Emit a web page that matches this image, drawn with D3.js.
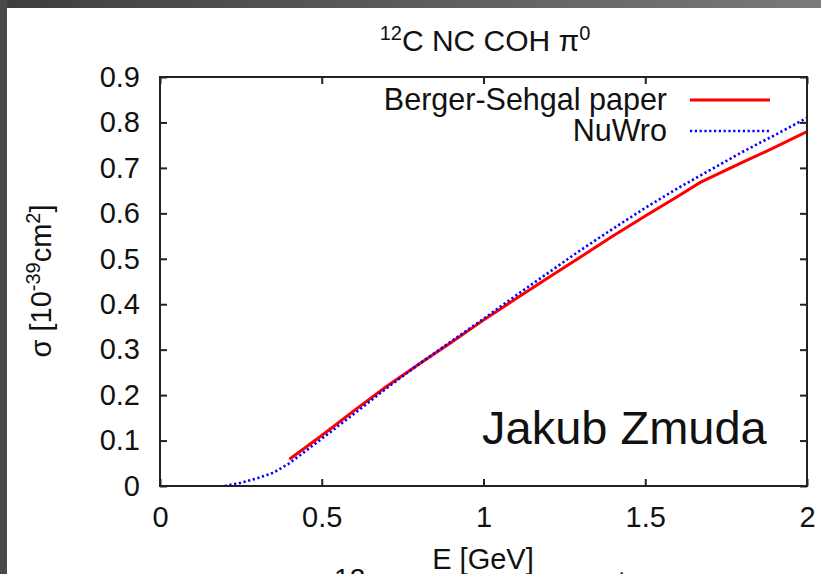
<!DOCTYPE html>
<html>
<head>
<meta charset="utf-8">
<script src="https://cdn.jsdelivr.net/npm/d3@7"></script>
<style>
  body { margin: 0; background: #fff; }
  svg { display: block; }
  text { font-family: "Liberation Sans", Arial, Helvetica, sans-serif; fill: #111; }
</style>
</head>
<body>
<svg width="821" height="574"></svg>
<script>
// donnees
const xTicks = [0, 0.5, 1, 1.5, 2];
const xTickLabels = ['0', '0.5', '1', '1.5', '2'];
const yTicks = [0, 0.1, 0.2, 0.3, 0.4, 0.5, 0.6, 0.7, 0.8, 0.9];
const yTickLabels = ['0', '0.1', '0.2', '0.3', '0.4', '0.5', '0.6', '0.7', '0.8', '0.9'];

// Berger-Sehgal paper
const bsE = [0.4, 0.5, 0.6, 0.7, 0.8, 0.9, 1.0, 1.1, 1.2, 1.3, 1.4, 1.5, 1.6, 1.67, 1.8, 1.9, 2.0];
const bsSigma = [0.059, 0.111, 0.166, 0.219, 0.268, 0.316, 0.365, 0.412, 0.458, 0.504, 0.55, 0.594, 0.637, 0.668, 0.712, 0.745, 0.78];

// NuWro
const nwE = [0.2, 0.25, 0.3, 0.35, 0.4, 0.45, 0.5, 0.6, 0.7, 0.8, 0.9, 1.0, 1.1, 1.2, 1.3, 1.4, 1.5, 1.6, 1.7, 1.8, 1.9, 2.0];
const nwSigma = [0, 0.007, 0.017, 0.029, 0.05, 0.077, 0.104, 0.159, 0.215, 0.268, 0.318, 0.368, 0.419, 0.469, 0.519, 0.566, 0.612, 0.655, 0.695, 0.735, 0.772, 0.81];

const svg = d3.select('svg');
const W = +svg.attr('width');
const H = +svg.attr('height');

// bord gris de la capture
const defs = svg.append('defs');
const grad = defs.append('linearGradient').attr('id', 'topband');
grad.append('stop').attr('offset', '0%').attr('stop-color', '#3e3e3e');
grad.append('stop').attr('offset', '100%').attr('stop-color', '#7a7a7a');
svg.append('rect').attr('x', 0).attr('y', 0).attr('width', W).attr('height', 8).attr('fill', 'url(#topband)');
svg.append('rect').attr('x', 0).attr('y', 0).attr('width', 7).attr('height', H).attr('fill', '#4a4a4a');

const pL = 160, pR = 807, pT = 77, pB = 486;

const x = d3.scaleLinear().domain([0, 2]).range([pL, pR]);
const y = d3.scaleLinear().domain([0, 0.9]).range([pB, pT]);

// courbes (clip dans le cadre)
defs.append('clipPath').attr('id', 'plot')
  .append('rect').attr('x', pL).attr('y', pT).attr('width', pR - pL).attr('height', pB - pT);

const line = d3.line().x(d => x(d[0])).y(d => y(d[1]));

svg.append('path')
  .datum(bsE.map((e, i) => [e, bsSigma[i]]))
  .attr('clip-path', 'url(#plot)')
  .attr('fill', 'none')
  .attr('stroke', '#ff0000')
  .attr('stroke-width', 3)
  .attr('d', line);

svg.append('path')
  .datum(nwE.map((e, i) => [e, nwSigma[i]]))
  .attr('clip-path', 'url(#plot)')
  .attr('fill', 'none')
  .attr('stroke', '#0000ff')
  .attr('stroke-width', 2.6)
  .attr('stroke-dasharray', '2.2,2.6')
  .attr('d', line);

// axes : ticks vers l'interieur, sur les quatre cotes
const tickLen = 7;
const axB = svg.append('g').attr('transform', `translate(0,${pB})`)
  .call(d3.axisBottom(x).tickValues(xTicks).tickSize(-tickLen).tickPadding(20)
    .tickFormat((d, i) => xTickLabels[i]));
const axT = svg.append('g').attr('transform', `translate(0,${pT})`)
  .call(d3.axisTop(x).tickValues(xTicks).tickSize(-tickLen).tickFormat(''));
const axL = svg.append('g').attr('transform', `translate(${pL},0)`)
  .call(d3.axisLeft(y).tickValues(yTicks).tickSize(-tickLen).tickPadding(20)
    .tickFormat((d, i) => yTickLabels[i]));
const axR = svg.append('g').attr('transform', `translate(${pR},0)`)
  .call(d3.axisRight(y).tickValues(yTicks).tickSize(-tickLen).tickFormat(''));

[axB, axT, axL, axR].forEach(g => {
  g.select('.domain').remove();
  g.selectAll('.tick line').attr('stroke', '#222').attr('stroke-width', 2);
  g.selectAll('.tick text').attr('font-size', 29).attr('font-family', null).attr('fill', '#111');
});

svg.append('rect')
  .attr('x', pL).attr('y', pT)
  .attr('width', pR - pL).attr('height', pB - pT)
  .attr('fill', 'none').attr('stroke', '#222').attr('stroke-width', 2);

// titre
const title = svg.append('text').attr('x', 485).attr('y', 51).attr('text-anchor', 'middle').attr('font-size', 30);
title.append('tspan').attr('font-size', 20).attr('dy', -11).text('12');
title.append('tspan').attr('dy', 11).text('C NC COH π');
title.append('tspan').attr('font-size', 20).attr('dy', -11).text('0');

// titre du graphique suivant, coupe en bas
const next = svg.append('text').attr('x', 482).attr('y', 603).attr('text-anchor', 'middle').attr('font-size', 42);
next.append('tspan').attr('font-size', 28).attr('dy', -15).text('12');
next.append('tspan').attr('dy', 15).text('C NC COH π');
next.append('tspan').attr('font-size', 28).attr('dy', -15).text('+');

// titre axe x
svg.append('text').attr('x', 483).attr('y', 569).attr('text-anchor', 'middle').attr('font-size', 29)
  .style('paint-order', 'stroke').attr('stroke', '#fff').attr('stroke-width', 3).text('E [GeV]');

// titre axe y
const yl = svg.append('text').attr('transform', 'translate(51,281) rotate(-90)')
  .attr('text-anchor', 'middle').attr('font-size', 29);
yl.append('tspan').text('σ [10');
yl.append('tspan').attr('font-size', 20).attr('dy', -11).text('-39');
yl.append('tspan').attr('dy', 11).text('cm');
yl.append('tspan').attr('font-size', 20).attr('dy', -11).text('2');
yl.append('tspan').attr('dy', 11).text(']');

// legende
const legend = [
  { name: 'Berger-Sehgal paper', color: '#ff0000', dash: null, w: 3 },
  { name: 'NuWro', color: '#0000ff', dash: '2.2,2.6', w: 2.6 }
];
legend.forEach((d, i) => {
  const ly = 100 + i * 31;
  svg.append('text').attr('x', 667).attr('y', ly + 10).attr('text-anchor', 'end')
    .attr('font-size', 30.5).text(d.name);
  svg.append('line').attr('x1', 690).attr('x2', 770).attr('y1', ly).attr('y2', ly)
    .attr('stroke', d.color).attr('stroke-width', d.w).attr('stroke-dasharray', d.dash);
});

// signature
svg.append('text').attr('x', 482).attr('y', 444).attr('font-size', 47).attr('fill', '#000').text('Jakub Zmuda');
</script>
</body>
</html>
